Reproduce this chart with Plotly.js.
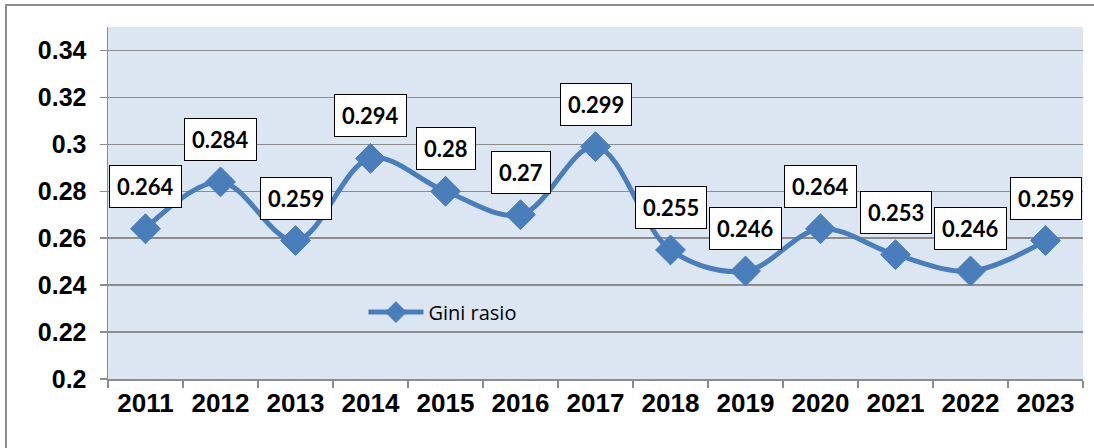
<!DOCTYPE html>
<html>
<head>
<meta charset="utf-8">
<script src="https://cdn.plot.ly/plotly-3.0.1.min.js"></script>
<style>
  html, body { margin: 0; padding: 0; background: #ffffff; }
  #wrap { position: relative; width: 1094px; height: 448px; overflow: hidden; }
  #chart { width: 1094px; height: 448px; }
  #frame { position: absolute; left: 5px; top: 4px; width: 1200px; height: 600px;
           border-left: 2px solid #8c8c8c; border-top: 2px solid #8c8c8c; pointer-events: none; }
</style>
</head>
<body>
<div id="wrap">
  <div id="chart"></div>
  <div id="frame"></div>
</div>
<script>
const years = ['2011','2012','2013','2014','2015','2016','2017','2018','2019','2020','2021','2022','2023'];
const gini = [0.264, 0.284, 0.259, 0.294, 0.28, 0.27, 0.299, 0.255, 0.246, 0.264, 0.253, 0.246, 0.259];
const yTicks = [0.2, 0.22, 0.24, 0.26, 0.28, 0.3, 0.32, 0.34];
const yTickText = ['0.2', '0.22', '0.24', '0.26', '0.28', '0.3', '0.32', '0.34'];
const seriesName = 'Gini rasio';

const trace = {
  x: years,
  y: gini,
  type: 'scatter',
  mode: 'lines+markers',
  name: seriesName,
  line: { color: '#4a7ebb', width: 5, shape: 'spline', smoothing: 1 },
  marker: { symbol: 'diamond', size: 23, color: '#4a7ebb', line: { color: '#4a7ebb', width: 1 } }
};

const annotations = gini.map((v, i) => ({
  x: i, y: v, xref: 'x', yref: 'y',
  text: '<b>' + v + '</b>',
  showarrow: false,
  yanchor: 'bottom', xanchor: 'center',
  yshift: 21,
  bgcolor: '#ffffff', bordercolor: '#000000', borderwidth: 1, borderpad: 7,
  font: { family: 'Lato, "Open Sans", sans-serif', size: 22, color: '#000000' }
}));

const layout = {
  width: 1094, height: 448,
  margin: { l: 108, r: 11, t: 27, b: 69 },
  paper_bgcolor: 'rgba(0,0,0,0)',
  plot_bgcolor: '#dce6f2',
  showlegend: true,
  legend: {
    x: 0.262, y: 0.19, xanchor: 'left', yanchor: 'middle',
    bgcolor: 'rgba(0,0,0,0)',
    itemwidth: 55,
    font: { family: '"Open Sans", Lato, sans-serif', size: 20, color: '#000000' }
  },
  xaxis: {
    type: 'category',
    tickson: 'boundaries',
    ticks: 'outside', ticklen: 7, tickcolor: '#8c8c8c', tickwidth: 1.5,
    showline: true, linecolor: '#8c8c8c', linewidth: 1.5,
    showgrid: false, zeroline: false,
    tickfont: { family: '"Liberation Sans", Arial, sans-serif', size: 26, color: '#000000', weight: 'bold' },
    range: [-0.5, 12.5]
  },
  yaxis: {
    range: [0.2, 0.35],
    tickvals: yTicks, ticktext: yTickText,
    ticks: 'outside', ticklen: 7, tickcolor: '#8c8c8c', tickwidth: 1.5,
    showline: true, linecolor: '#8c8c8c', linewidth: 1.5,
    showgrid: true, gridcolor: '#8c8c8c', gridwidth: 1.5,
    zeroline: false,
    ticklabelstandoff: 8,
    tickfont: { family: '"Liberation Sans", Arial, sans-serif', size: 25, color: '#000000', weight: 'bold' }
  },
  annotations: annotations
};

Plotly.newPlot('chart', [trace], layout, { displayModeBar: false, staticPlot: true });
</script>
</body>
</html>
